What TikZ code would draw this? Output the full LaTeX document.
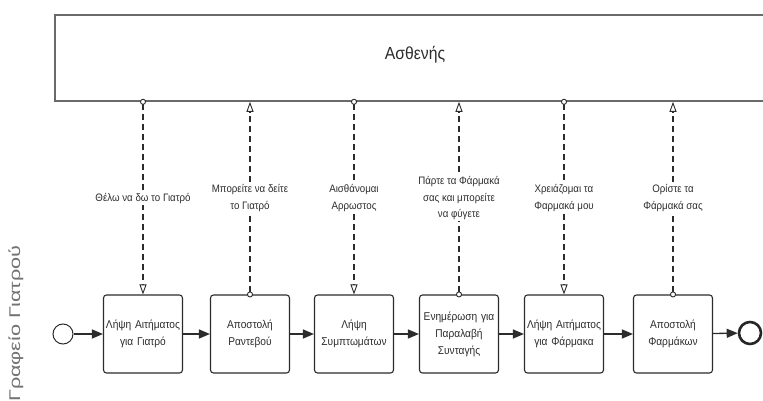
\documentclass[tikz,border=0pt]{standalone}
\usepackage{fontspec}
\setmainfont{Liberation Sans}[FakeStretch=0.9]
\newfontfamily\lanefont{Liberation Sans}
\usetikzlibrary{arrows.meta}

\definecolor{ink}{HTML}{2C2C2C}
\definecolor{frame}{HTML}{6A6A6A}

\tikzset{
  task/.style={draw=ink, line width=1.1pt, rounded corners=3pt, fill=white,
    minimum width=79pt, minimum height=78pt, text width=78pt, align=center,
    inner sep=0pt, font=\fontsize{11.3}{17}\selectfont, text=ink},
  seqflow/.style={draw=ink, line width=1.3pt, -{Triangle[length=11pt,width=9pt]}},
  msgflow/.style={draw=ink, line width=1.5pt, dash pattern=on 6pt off 4pt},
  msgstart/.style={shorten <=-3pt},
  msgarrows/.style={{Circle[length=6pt,fill=white,line width=0.9pt]}-{Triangle[length=10pt,width=7pt,fill=white,line width=0.9pt]}},
  flowlabel/.style={fill=white, inner sep=1.5pt, align=center,
    font=\fontsize{10.8}{16.5}\selectfont, text=ink},
  startev/.style={circle, draw=ink, line width=1pt, minimum size=20pt, inner sep=0pt},
  endev/.style={circle, draw=black!85, line width=2.6pt, minimum size=22pt, inner sep=0pt}
}

\begin{document}
\begin{tikzpicture}[x=1pt, y=-1pt]
  \useasboundingbox (0,0) rectangle (763,401);
  \clip (0,0) rectangle (763,401);
  \fill[white] (0,0) rectangle (763,401);

  % patient pool (runs past the right edge)
  \node[draw=frame, line width=1.6pt, minimum width=740pt, minimum height=86pt,
        inner sep=0pt] (pool) at (425,58) {};
  \node[font=\fontsize{17.5}{20}\selectfont, text=ink] (patient) at (415,55) {Ασθενής};

  % doctor's office lane label
  \node[rotate=90, anchor=base east, text=black!55, inner sep=0pt,
        font=\lanefont\fontsize{15.5}{18}\selectfont] (lane) at (20,245)
        {\scalebox{1.4}[1]{Γραφείο Γιατρού}};

  % process
  \node[startev] (start) at (63,334) {};
  \node[task] (t1) at (143,334) {Λήψη Αιτήματος\\για Γιατρό};
  \node[task] (t2) at (250,334) {Αποστολή\\Ραντεβού};
  \node[task] (t3) at (354,334) {Λήψη\\Συμπτωμάτων};
  \node[task] (t4) at (459,334) {Ενημέρωση για\\Παραλαβή\\Συνταγής};
  \node[task] (t5) at (564,334) {Λήψη Αιτήματος\\για Φάρμακα};
  \node[task] (t6) at (673,334) {Αποστολή\\Φαρμάκων};
  \node[endev] (end) at (750,333) {};

  \draw[seqflow] (start) -- (t1);
  \draw[seqflow] (t1) -- (t2);
  \draw[seqflow] (t2) -- (t3);
  \draw[seqflow] (t3) -- (t4);
  \draw[seqflow] (t4) -- (t5);
  \draw[seqflow] (t5) -- (t6);
  \draw[seqflow] (t6) -- (end);

  % message flows between patient and office
  \draw[msgflow, msgarrows, msgstart] (t1.north |- pool.south) -- node[flowlabel] {Θέλω να δω το Γιατρό} (t1.north);
  \draw[msgflow, msgarrows, msgstart] (t2.north) -- node[flowlabel] {Μπορείτε να δείτε\\το Γιατρό} (t2.north |- pool.south);
  \draw[msgflow, msgarrows, msgstart] (t3.north |- pool.south) -- node[flowlabel] {Αισθάνομαι\\Αρρωστος} (t3.north);
  \draw[msgflow, msgarrows, msgstart] (t4.north) -- node[flowlabel] {Πάρτε τα Φάρμακά\\σας και μπορείτε\\να φύγετε} (t4.north |- pool.south);
  \draw[msgflow, msgarrows, msgstart] (t5.north |- pool.south) -- node[flowlabel] {Χρειάζομαι τα\\Φαρμακά μου} (t5.north);
  \draw[msgflow, msgarrows, msgstart] (t6.north) -- node[flowlabel] {Ορίστε τα\\Φάρμακά σας} (t6.north |- pool.south);
\end{tikzpicture}
\end{document}
